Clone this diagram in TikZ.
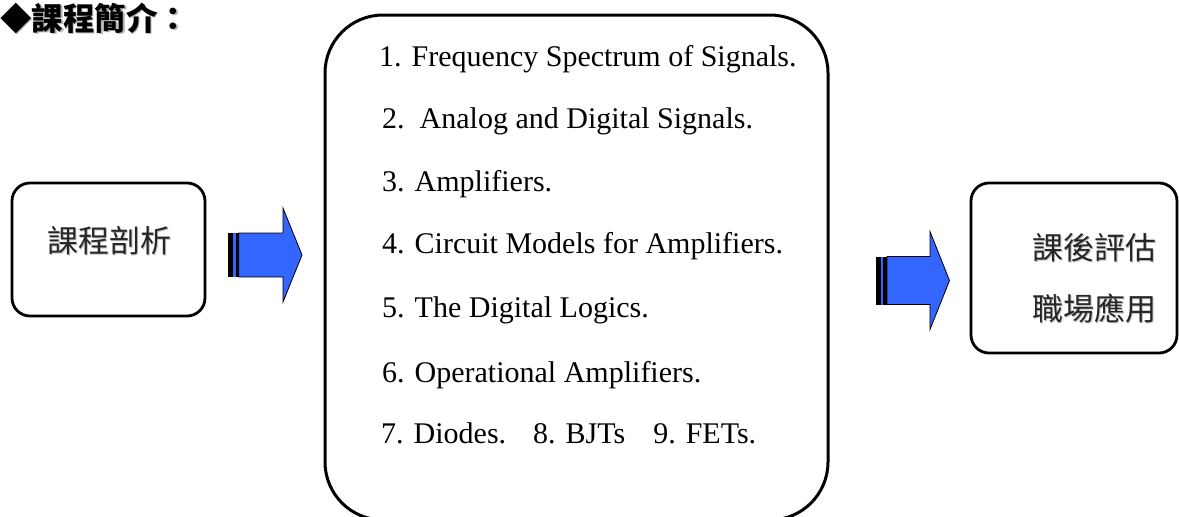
\documentclass[tikz,border=0pt]{standalone}
\usepackage{fontspec}
\setmainfont{Liberation Serif}
\newfontfamily\cjk{Noto Sans CJK TC}
\definecolor{arrowblue}{RGB}{51,102,255}
\tikzset{
  box/.style={draw, line width=2.8pt, rounded corners=18pt, inner sep=0pt},
  bigbox/.style={draw, line width=3pt, rounded corners=58pt, inner sep=0pt},
  item/.style={anchor=base west, inner sep=0pt, font=\fontsize{30}{30}\selectfont},
  cjktxt/.style={anchor=base, inner sep=0pt, font=\cjk\fontsize{31}{31}\selectfont, text=black!85},
  cjkshadow/.style={cjktxt, text=black!25},
  arrowbody/.style={fill=arrowblue, draw=black, line width=0.8pt, line join=miter},
  stripeblack/.style={fill=black, draw=none},
  stripeblue/.style={fill=arrowblue, draw=none},
}
\begin{document}
\begin{tikzpicture}[x=1pt,y=-1pt]
\useasboundingbox (0,0) rectangle (1179,517);
% title
\node[anchor=base west, inner sep=0pt, font=\cjk\bfseries\fontsize{31.5}{31.5}\selectfont, text=black!30] at (1.5,31.5) {◆課程簡介：};
\node[anchor=base west, inner sep=0pt, font=\cjk\bfseries\fontsize{31.5}{31.5}\selectfont] (title) at (0,30) {◆課程簡介：};
% boxes
\node[box, minimum width=193pt, minimum height=133pt] (left) at (108.5,249.5) {};
\node[bigbox, minimum width=503pt, minimum height=505pt] (mid) at (576.5,267.5) {};
\node[box, minimum width=206pt, minimum height=170pt] (right) at (1074,268) {};
% left text
\node[cjkshadow] at (110.5,253.5) {課程剖析};
\node[cjktxt] (lt) at (109,252) {課程剖析};
% right text
\node[cjkshadow] at (1095.5,260.5) {課後評估};
\node[cjktxt] (rt1) at (1094,259) {課後評估};
\node[cjkshadow] at (1095.5,321.5) {職場應用};
\node[cjktxt] (rt2) at (1094,320) {職場應用};
% list
\node[item] (i1) at (379,66) {1. Frequency Spectrum of Signals.};
\node[item] (i2) at (382,128) {2.\ \ Analog and Digital Signals.};
\node[item] (i3) at (382,191) {3. Amplifiers.};
\node[item] (i4) at (382,253) {4. Circuit Models for Amplifiers.};
\node[item] (i5) at (382,317) {5. The Digital Logics.};
\node[item] (i6) at (382,382) {6. Operational Amplifiers.};
\node[item] (i7) at (381,443) {7. Diodes.\hspace{27pt}8. BJTs\hspace{28pt}9. FETs.};
% arrow 1
\fill[stripeblack] (228,233) rectangle (233.3,277);
\fill[stripeblue] (233.3,233) rectangle (236.2,277);
\fill[stripeblack] (236.2,233) rectangle (238.7,277);
\draw[arrowbody] (238.7,233) -- (283,233) -- (283,208) -- (302,255) -- (283,302) -- (283,277) -- (238.7,277) -- cycle;
% arrow 2
\fill[stripeblack] (876,256.5) rectangle (880.5,304.5);
\fill[stripeblue] (880.5,256.5) rectangle (883,304.5);
\fill[stripeblack] (883,256.5) rectangle (887,304.5);
\draw[arrowbody] (887,256.5) -- (930,256.5) -- (930,231.5) -- (949.5,280.5) -- (930,329.5) -- (930,304.5) -- (887,304.5) -- cycle;
\end{tikzpicture}
\end{document}
